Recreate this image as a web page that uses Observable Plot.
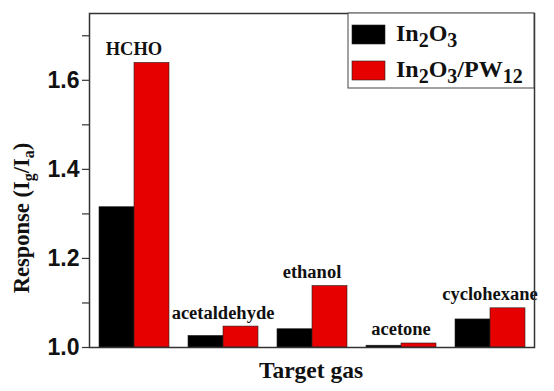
<!DOCTYPE html>
<html>
<head>
<meta charset="utf-8">
<script src="https://cdn.jsdelivr.net/npm/d3@7"></script>
<script src="https://cdn.jsdelivr.net/npm/@observablehq/plot@0.6"></script>
<style>
  html, body { margin: 0; padding: 0; background: #fff; }
</style>
</head>
<body>
<div id="chart"></div>
<script>
const gases = ["HCHO", "acetaldehyde", "ethanol", "acetone", "cyclohexane"];
const series = ["In2O3", "In2O3/PW12"];
const in2o3 = [1.315, 1.026, 1.041, 1.004, 1.063];
const in2o3pw12 = [1.639, 1.047, 1.138, 1.009, 1.088];
const majorTicks = [1.0, 1.2, 1.4, 1.6];
const minorTicks = [1.1, 1.3, 1.5, 1.7];
const yDomain = [1.0, 1.75];
const colors = ["#000000", "#e60000"];

const table = [];
gases.forEach((g, i) => {
  table.push({gas: g, series: series[0], value: in2o3[i]});
  table.push({gas: g, series: series[1], value: in2o3pw12[i]});
});
const labels = gases.map((g, i) => ({gas: g, top: Math.max(in2o3[i], in2o3pw12[i])}));

const serif = "'Liberation Serif', 'Times New Roman', serif";
const sans = "'Liberation Sans', Arial, sans-serif";

const plot = Plot.plot({
  width: 554,
  height: 391,
  marginLeft: 87,
  marginRight: 19,
  marginTop: 13,
  marginBottom: 44,
  style: {background: "#fff", overflow: "visible"},
  fx: {domain: gases, padding: 0, axis: null},
  x: {domain: series, paddingInner: 0, paddingOuter: 0.26, axis: null},
  y: {domain: yDomain},
  color: {domain: series, range: colors},
  marks: [
    Plot.barY(table, {fx: "gas", x: "series", y1: yDomain[0], y2: "value", fill: "series", stroke: "#222", strokeWidth: 0.6}),
    Plot.text(labels, {fx: "gas", y: "top", text: "gas", dy: -8, lineAnchor: "bottom", fontFamily: serif, fontWeight: "bold", fontSize: 18.5, fill: "#111"}),
    Plot.axisY({ticks: majorTicks, tickFormat: d3.format(".1f"), tickSize: 7, tickPadding: 3, label: null, fontSize: 23, fontWeight: "bold", fontFamily: sans, stroke: "#333", strokeWidth: 1.2, fill: "#111"}),
    Plot.axisY({ticks: minorTicks, tickFormat: () => "", tickSize: 7, label: null, stroke: "#333", strokeWidth: 1.2}),
    Plot.frame({facet: "super", stroke: "#333", strokeWidth: 1.5})
  ]
});
document.getElementById("chart").appendChild(plot);

const svg = d3.select(plot);

// y-axis title with subscripts
const yt = svg.append("text")
  .attr("transform", "translate(29,218) rotate(-90)")
  .attr("text-anchor", "middle")
  .attr("font-family", serif).attr("font-weight", "bold").attr("font-size", 22.5).attr("fill", "#111");
yt.append("tspan").text("Response (I");
yt.append("tspan").attr("dy", 5).attr("font-size", 16).text("g");
yt.append("tspan").attr("dy", -5).text("/I");
yt.append("tspan").attr("dy", 5).attr("font-size", 16).text("a");
yt.append("tspan").attr("dy", -5).text(")");

// x-axis title
svg.append("text")
  .attr("x", 311).attr("y", 378)
  .attr("text-anchor", "middle")
  .attr("font-family", serif).attr("font-weight", "bold").attr("font-size", 23.5).attr("fill", "#111")
  .text("Target gas");

// legend
const lg = svg.append("g");
lg.append("rect").attr("x", 348).attr("y", 13).attr("width", 186).attr("height", 75)
  .attr("fill", "#fff").attr("stroke", "#444").attr("stroke-width", 1);
const legendParts = [
  [["In", 0], ["2", 1], ["O", 0], ["3", 1]],
  [["In", 0], ["2", 1], ["O", 0], ["3", 1], ["/PW", 0], ["12", 1]]
];
series.forEach((s, i) => {
  const y0 = 25 + i * 36;
  lg.append("rect").attr("x", 352).attr("y", y0).attr("width", 33).attr("height", 19)
    .attr("fill", colors[i]).attr("stroke", "#222").attr("stroke-width", 0.6);
  const t = lg.append("text").attr("x", 396).attr("y", y0 + 16)
    .attr("text-anchor", "start")
    .attr("font-family", serif).attr("font-weight", "bold").attr("font-size", 24).attr("fill", "#111");
  let sub = 0;
  legendParts[i].forEach(([txt, isSub]) => {
    const span = t.append("tspan").text(txt);
    if (isSub && !sub) { span.attr("dy", 6).attr("font-size", 20); sub = 1; }
    else if (isSub) { span.attr("font-size", 20); }
    else if (!isSub && sub) { span.attr("dy", -6); sub = 0; }
  });
});
</script>
</body>
</html>
